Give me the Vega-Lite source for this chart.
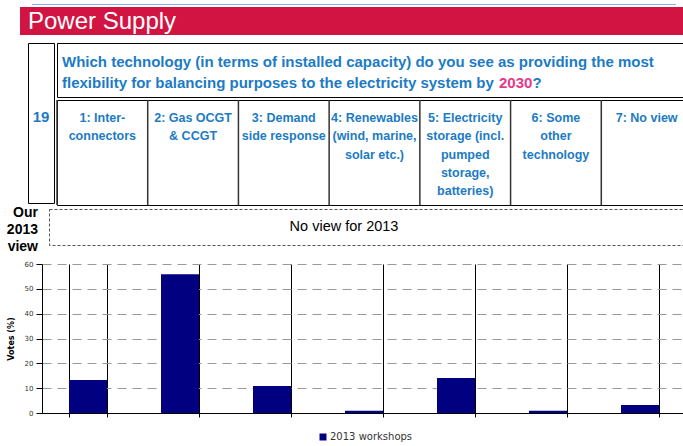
{
  "$schema": "https://vega.github.io/schema/vega-lite/v6.json",
  "padding": {"left": 0, "top": 4, "right": 0, "bottom": 0},
  "background": "white",
  "config": {"view": {"stroke": null}, "font": "Liberation Sans", "legend": {"layout": {"bottom": {"anchor": "middle"}}}},
  "spacing": 6,
  "vconcat": [
    {
      "spacing": -1,
      "vconcat": [
        {
          "spacing": 7,
          "vconcat": [
            {
              "spacing": 2,
              "vconcat": [
                {
                  "spacing": 0,
                  "hconcat": [
                    {"width": 32, "height": 1, "data": {"values": []}, "mark": {"type": "text"}},
                    {"width": 644, "height": 1, "data": {"values": []}, "mark": {"type": "text"}, "view": {"fill": "#7FB0DE", "stroke": null}}
                  ]
                },
                {
                  "spacing": 0,
                  "hconcat": [
                    {"width": 20, "height": 28, "data": {"values": []}, "mark": {"type": "text"}},
                    {
                      "width": 670, "height": 28,
                      "view": {"fill": "#D21443", "stroke": null},
                      "data": {"values": [{"title": "Power Supply"}]},
                      "mark": {"type": "text", "align": "left", "baseline": "alphabetic", "dx": 8, "dy": 8, "fontSize": 24, "color": "white", "font": "Liberation Sans"},
                      "encoding": {
                        "x": {"datum": 0, "type": "quantitative", "scale": {"domain": [0, 1]}, "axis": null},
                        "text": {"field": "title", "type": "nominal"}
                      }
                    }
                  ]
                }
              ]
            },
            {
              "spacing": 0,
              "hconcat": [
                {"width": 27, "height": 160, "data": {"values": []}, "mark": {"type": "text"}},
                {
                  "width": 26, "height": 160,
                  "view": {"stroke": "#000", "strokeWidth": 1},
                  "data": {"values": [{"q": "19"}]},
                  "mark": {"type": "text", "fontSize": 15, "fontWeight": "bold", "color": "#1C7BC4", "dy": -6},
                  "encoding": {"text": {"field": "q", "type": "nominal"}}
                },
                {
                  "spacing": 0,
                  "vconcat": [
                    {
                      "width": 641, "height": 54,
                      "view": {"stroke": "#000", "strokeWidth": 1},
                      "encoding": {"x": {"datum": 0, "type": "quantitative", "scale": {"domain": [0, 1]}, "axis": null}},
                      "layer": [
                        {
                          "data": {"values": [{"t": "Which technology (in terms of installed capacity) do you see as providing the most"}]},
                          "mark": {"type": "text", "align": "left", "baseline": "alphabetic", "dx": 5, "dy": -3, "fontSize": 15, "fontWeight": "bold", "color": "#1C7BC4"},
                          "encoding": {"text": {"field": "t", "type": "nominal"}}
                        },
                        {
                          "data": {"values": [{"t": "flexibility for balancing purposes to the electricity system by"}]},
                          "mark": {"type": "text", "align": "left", "baseline": "alphabetic", "dx": 5, "dy": 18, "fontSize": 15, "fontWeight": "bold", "color": "#1C7BC4"},
                          "encoding": {"text": {"field": "t", "type": "nominal"}}
                        },
                        {
                          "data": {"values": [{"t": "2030"}]},
                          "mark": {"type": "text", "align": "left", "baseline": "alphabetic", "dx": 442, "dy": 18, "fontSize": 15, "fontWeight": "bold", "color": "#E8388A"},
                          "encoding": {"text": {"field": "t", "type": "nominal"}}
                        },
                        {
                          "data": {"values": [{"t": "?"}]},
                          "mark": {"type": "text", "align": "left", "baseline": "alphabetic", "dx": 475.5, "dy": 18, "fontSize": 15, "fontWeight": "bold", "color": "#1C7BC4"},
                          "encoding": {"text": {"field": "t", "type": "nominal"}}
                        }
                      ]
                    },
                    {
                      "width": 635, "height": 105,
                      "view": {"stroke": "#000", "strokeWidth": 1},
                      "data": {"values": [
                        {"opt": "1", "label": "1: Inter-\nconnectors"},
                        {"opt": "2", "label": "2: Gas OCGT\n& CCGT"},
                        {"opt": "3", "label": "3: Demand\nside response"},
                        {"opt": "4", "label": "4: Renewables\n(wind, marine,\nsolar etc.)"},
                        {"opt": "5", "label": "5: Electricity\nstorage (incl.\npumped\nstorage,\nbatteries)"},
                        {"opt": "6", "label": "6: Some\nother\ntechnology"},
                        {"opt": "7", "label": "7: No view"}
                      ]},
                      "encoding": {"x": {"field": "opt", "type": "nominal", "axis": null, "scale": {"type": "band", "paddingInner": 0, "paddingOuter": 0}}},
                      "layer": [
                        {
                          "mark": {"type": "rule", "color": "#333", "strokeWidth": 1.5},
                          "encoding": {"x": {"field": "opt", "type": "nominal", "bandPosition": 0, "axis": null, "scale": {"type": "band", "paddingInner": 0, "paddingOuter": 0}}}
                        },
                        {
                          "mark": {"type": "text", "lineBreak": "\n", "align": "center", "baseline": "alphabetic", "fontSize": 12.5, "fontWeight": "bold", "color": "#1C7BC4", "lineHeight": 18.3, "dy": 22},
                          "encoding": {
                            "text": {"field": "label", "type": "nominal"},
                            "y": {"datum": 1, "type": "quantitative", "scale": {"domain": [0, 1]}, "axis": null}
                          }
                        }
                      ]
                    }
                  ]
                }
              ]
            }
          ]
        },
        {
          "spacing": 10,
          "hconcat": [
            {
              "width": 38, "height": 36,
              "data": {"values": [{"t": "Our\n2013\nview"}]},
              "mark": {"type": "text", "lineBreak": "\n", "align": "right", "baseline": "middle", "fontSize": 14, "fontWeight": "bold", "lineHeight": 17, "color": "#000", "dy": -14},
              "encoding": {
                "text": {"field": "t", "type": "nominal"},
                "x": {"datum": 1, "type": "quantitative", "scale": {"domain": [0, 1]}, "axis": null}
              }
            },
            {
              "width": 640, "height": 36,
              "view": {"stroke": "#555", "strokeDash": [3, 2], "strokeWidth": 1},
              "data": {"values": [{"t": "No view for 2013"}]},
              "mark": {"type": "text", "fontSize": 14.5, "color": "#000", "dx": -25},
              "encoding": {"text": {"field": "t", "type": "nominal"}}
            }
          ]
        }
      ]
    },
    {
      "spacing": 0,
      "hconcat": [
        {"width": 7, "height": 149, "data": {"values": []}, "mark": {"type": "text"}},
        {
          "width": 644, "height": 149,
          "data": {"values": [
            {"option": "1", "votes": 13.3, "series": "2013 workshops"},
            {"option": "2", "votes": 55.9, "series": "2013 workshops"},
            {"option": "3", "votes": 10.9, "series": "2013 workshops"},
            {"option": "4", "votes": 0.9, "series": "2013 workshops"},
            {"option": "5", "votes": 14.1, "series": "2013 workshops"},
            {"option": "6", "votes": 0.9, "series": "2013 workshops"},
            {"option": "7", "votes": 3.2, "series": "2013 workshops"}
          ]},
          "mark": {"type": "bar"},
          "encoding": {
            "x": {"field": "option", "type": "nominal", "scale": {"paddingInner": 0.587, "paddingOuter": 0.2935}, "axis": {"labels": false, "title": null, "tickBand": "extent", "grid": true, "gridColor": "#000", "gridWidth": 1, "gridOpacity": 1, "tickColor": "#000", "tickSize": 4, "domainColor": "#000"}},
            "y": {"field": "votes", "type": "quantitative", "scale": {"domain": [0, 60]}, "axis": {"title": "Votes (%)", "values": [0, 10, 20, 30, 40, 50, 60], "grid": true, "gridDash": [9, 6], "gridColor": "#999", "gridOpacity": 1, "tickSize": 6, "tickColor": "#000", "domainColor": "#000", "labelFontSize": 7, "labelFont": "DejaVu Sans", "labelColor": "#333", "labelPadding": 3, "titleFont": "DejaVu Sans", "titleFontSize": 8, "titleFontWeight": "bold", "titleColor": "#000", "titlePadding": 9, "minExtent": 0}},
            "color": {"field": "series", "type": "nominal", "scale": {"range": ["#000080"]}, "legend": {"orient": "bottom", "title": null, "symbolType": "square", "symbolSize": 49, "symbolOffset": 32, "labelOffset": 2, "labelFontSize": 10, "labelFont": "DejaVu Sans", "labelColor": "#333", "offset": 14, "symbolStrokeWidth": 0}}
          }
        }
      ]
    }
  ]
}
